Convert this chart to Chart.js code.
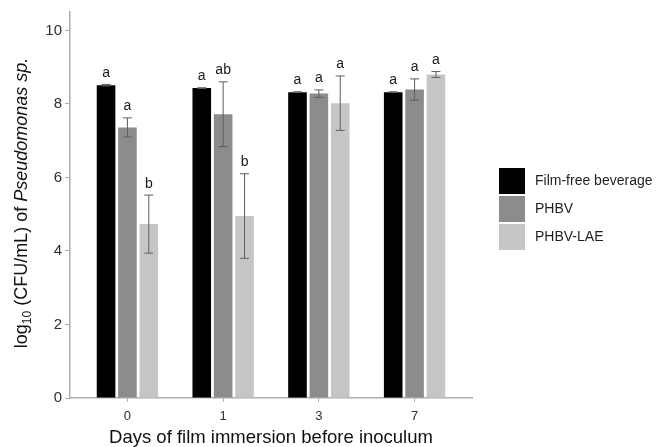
<!DOCTYPE html>
<html>
<head>
<meta charset="utf-8">
<script src="https://cdn.jsdelivr.net/npm/chart.js@4/dist/chart.umd.min.js"></script>
<style>
  html, body { margin: 0; padding: 0; background: #ffffff; }
  #wrap { width: 656px; height: 447px; }
</style>
</head>
<body>
<div id="wrap"><canvas id="chart" width="656" height="447"></canvas></div>
<script>
// Days of immersion (x categories)
const categories = ['0', '1', '3', '7'];
const seriesNames = ['Film-free beverage', 'PHBV', 'PHBV-LAE'];

// Mean log10 counts and standard deviations per treatment
const filmFree = [8.51, 8.43, 8.32, 8.32];
const filmFreeSd = [0.02, 0.01, 0.01, 0.01];
const phbv = [7.36, 7.72, 8.28, 8.39];
const phbvSd = [0.26, 0.88, 0.10, 0.29];
const phbvLae = [4.73, 4.95, 8.02, 8.80];
const phbvLaeSd = [0.79, 1.15, 0.74, 0.08];

// Significance letters above each bar
const filmFreeLetters = ['a', 'a', 'a', 'a'];
const phbvLetters = ['a', 'ab', 'a', 'a'];
const phbvLaeLetters = ['b', 'b', 'a', 'a'];

const yTicks = [0, 2, 4, 6, 8, 10];

const FONT = '"Liberation Sans", Arial, Helvetica, sans-serif';
const AXIS_GREY = '#adadad';

function toPoints(values) {
  return values.map((v, i) => ({ x: i, y: v }));
}

const datasets = [
  { label: seriesNames[0], data: toPoints(filmFree), backgroundColor: '#000000', sd: filmFreeSd, letters: filmFreeLetters },
  { label: seriesNames[1], data: toPoints(phbv), backgroundColor: '#8c8c8c', sd: phbvSd, letters: phbvLetters },
  { label: seriesNames[2], data: toPoints(phbvLae), backgroundColor: '#c6c6c6', sd: phbvLaeSd, letters: phbvLaeLetters }
].map(ds => Object.assign(ds, { borderWidth: 0, categoryPercentage: 0.67, barPercentage: 0.87 }));

// Error bars and letters drawn on top of each bar
const errorBarPlugin = {
  id: 'errorBars',
  afterDatasetsDraw(chart) {
    const ctx = chart.ctx;
    const yScale = chart.scales.y;
    ctx.save();
    chart.data.datasets.forEach((ds, di) => {
      const meta = chart.getDatasetMeta(di);
      meta.data.forEach((bar, i) => {
        const mean = ds.data[i].y;
        const sd = ds.sd[i];
        const yTop = yScale.getPixelForValue(mean + sd);
        const yBot = yScale.getPixelForValue(mean - sd);
        const x = bar.x;
        const cap = 4.5;
        ctx.strokeStyle = '#5e5e5e';
        ctx.lineWidth = 1;
        ctx.beginPath();
        ctx.moveTo(x, yTop); ctx.lineTo(x, yBot);
        ctx.moveTo(x - cap, yTop); ctx.lineTo(x + cap, yTop);
        ctx.moveTo(x - cap, yBot); ctx.lineTo(x + cap, yBot);
        ctx.stroke();
        ctx.fillStyle = '#1a1a1a';
        ctx.font = '14px ' + FONT;
        ctx.textAlign = 'center';
        ctx.textBaseline = 'alphabetic';
        ctx.fillText(ds.letters[i], x, yTop - 7.5);
      });
    });
    ctx.restore();
  },
  afterDraw(chart) {
    const ctx = chart.ctx;
    ctx.save();
    // Legend on the right
    const lx = 499, ly = 168, pitch = 28, bw = 26, bh = 26;
    chart.data.datasets.forEach((ds, i) => {
      const y = ly + i * pitch;
      ctx.fillStyle = ds.backgroundColor;
      ctx.fillRect(lx, y, bw, bh);
      ctx.fillStyle = '#1f1f1f';
      ctx.font = '14px ' + FONT;
      ctx.textAlign = 'left';
      ctx.textBaseline = 'middle';
      ctx.fillText(ds.label, 535, y + bh / 2);
    });

    // Rotated y-axis title with subscript and italic genus name
    const parts = [
      { text: 'log', font: '18px ' + FONT, dy: 0 },
      { text: '10', font: '12px ' + FONT, dy: 4 },
      { text: ' (CFU/mL) of ', font: '18px ' + FONT, dy: 0 },
      { text: 'Pseudomonas sp.', font: 'italic 18px ' + FONT, dy: 0 }
    ];
    let total = 0;
    parts.forEach(p => { ctx.font = p.font; p.w = ctx.measureText(p.text).width; total += p.w; });
    const cy = (chart.chartArea.top + chart.chartArea.bottom) / 2 - 2;
    ctx.translate(27, cy);
    ctx.rotate(-Math.PI / 2);
    ctx.fillStyle = '#111111';
    ctx.textAlign = 'left';
    ctx.textBaseline = 'alphabetic';
    let cx = -total / 2;
    parts.forEach(p => {
      ctx.font = p.font;
      ctx.fillText(p.text, cx, p.dy);
      cx += p.w;
    });
    ctx.restore();
  }
};

new Chart(document.getElementById('chart'), {
  type: 'bar',
  data: { datasets },
  options: {
    responsive: false,
    animation: false,
    devicePixelRatio: 1,
    layout: { padding: { top: 12, right: 184, left: 0, bottom: 0 } },
    plugins: { legend: { display: false }, tooltip: { enabled: false } },
    scales: {
      x: {
        type: 'linear',
        min: -0.6,
        max: 3.6,
        offset: false,
        afterBuildTicks(axis) { axis.ticks = categories.map((c, i) => ({ value: i })); },
        afterFit(scale) { scale.height = 49; },
        ticks: {
          callback: (v) => categories[v],
          font: { size: 13, family: FONT },
          color: '#2e2e2e',
          padding: 7,
          maxRotation: 0
        },
        grid: { offset: false, drawOnChartArea: false, drawTicks: true, tickLength: 4, color: AXIS_GREY },
        border: { display: true, color: AXIS_GREY, width: 1.5 },
        title: {
          display: true,
          text: 'Days of film immersion before inoculum',
          font: { size: 18.5, family: FONT, lineHeight: 1 },
          color: '#111111',
          padding: { top: 0, bottom: 0 }
        }
      },
      y: {
        type: 'linear',
        min: 0,
        max: 10.5,
        afterBuildTicks(axis) { axis.ticks = yTicks.map(v => ({ value: v })); },
        afterFit(scale) { scale.width = 70; },
        ticks: {
          font: { size: 15, family: FONT },
          color: '#2e2e2e',
          padding: 3
        },
        grid: { drawOnChartArea: false, drawTicks: true, tickLength: 5, color: AXIS_GREY },
        border: { display: true, color: AXIS_GREY, width: 1.5 }
      }
    }
  },
  plugins: [errorBarPlugin]
});
</script>
</body>
</html>
